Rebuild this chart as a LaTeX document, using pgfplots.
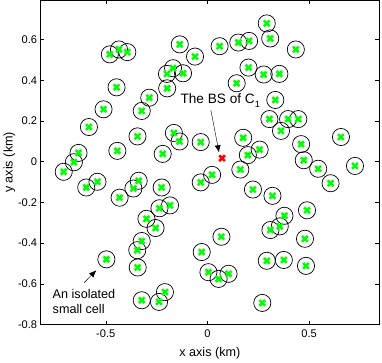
\documentclass[border=0pt]{standalone}
\usepackage{fontspec}
\setmainfont{Liberation Sans}
\usepackage{pgfplots}
\usepackage{pgfplotstable}
\pgfplotsset{compat=1.18}
\usetikzlibrary{arrows.meta}
\definecolor{mgreen}{RGB}{0,255,0}
\definecolor{mred}{RGB}{255,0,0}

% small cell positions (km)
\pgfplotstableread{
x y
-0.480 0.527
-0.435 0.551
-0.394 0.538
-0.447 0.365
-0.511 0.257
-0.323 0.249
-0.286 0.314
-0.583 0.170
-0.634 0.043
-0.657 -0.003
-0.707 -0.050
-0.443 0.053
-0.344 0.124
-0.198 0.360
-0.199 0.431
-0.169 0.459
-0.120 0.434
-0.136 0.576
-0.061 0.516
0.060 0.567
0.152 0.585
0.205 0.593
0.292 0.679
0.309 0.605
0.435 0.551
0.202 0.462
0.277 0.428
0.354 0.431
0.144 0.385
0.334 0.303
0.305 0.209
0.397 0.209
0.447 0.209
0.362 0.151
0.657 0.121
0.461 0.086
0.474 0.007
0.545 -0.035
0.606 -0.106
0.726 -0.021
0.176 0.117
0.199 0.032
0.257 0.059
0.162 -0.039
-0.165 0.141
-0.137 0.099
-0.033 0.096
-0.220 0.038
0.023 -0.065
-0.033 -0.102
-0.596 -0.127
-0.541 -0.099
-0.432 -0.177
-0.364 -0.132
-0.338 -0.094
-0.225 -0.127
-0.236 -0.229
-0.184 -0.215
-0.300 -0.281
-0.255 -0.326
-0.323 -0.390
-0.345 -0.435
-0.343 -0.520
-0.497 -0.480
-0.323 -0.681
-0.238 -0.689
-0.209 -0.641
0.224 -0.137
0.320 -0.168
0.490 -0.239
0.379 -0.266
0.356 -0.318
0.310 -0.336
0.069 -0.369
-0.028 -0.444
0.480 -0.379
0.005 -0.543
0.055 -0.576
0.104 -0.551
0.292 -0.487
0.376 -0.483
0.485 -0.512
0.270 -0.694
}\cells

\pgfplotstableread{
x y
0.072 0.017
}\bs

\begin{document}
\begin{tikzpicture}
\begin{axis}[
  scale only axis,
  width=335pt, height=321pt,
  xmin=-0.82, xmax=0.844,
  ymin=-0.8, ymax=0.792,
  xtick={-0.5,0,0.5},
  xticklabels={-0.5,0,0.5},
  ytick={-0.8,-0.6,-0.4,-0.2,0,0.2,0.4,0.6},
  yticklabels={-0.8,-0.6,-0.4,-0.2,0,0.2,0.4,0.6},
  tick align=inside,
  major tick length=3.5pt,
  tick style={black, line width=0.5pt},
  axis line style={black, line width=0.8pt},
  tick label style={font=\fontsize{11}{13}\selectfont},
  xticklabel style={yshift=-2pt},
  label style={font=\fontsize{12.5}{14}\selectfont},
  xlabel={x axis (km)},
  xlabel style={yshift=-2pt},
  ylabel={y axis (km)},
  ylabel style={yshift=-4pt},
  clip=false,
]
  \addplot[only marks, mark=o, mark size=8.5pt, black, line width=0.7pt] table[x=x, y=y] {\cells};
  \addplot[only marks, mark=x, mark size=4pt, mgreen, line width=2.5pt] table[x=x, y=y] {\cells};
  \addplot[only marks, mark=x, mark size=4pt, mred, line width=2.5pt] table[x=x, y=y] {\bs};

  \node[font=\fontsize{13.5}{15}\selectfont] at (axis cs:0.063,0.302)
    {The BS of C\raisebox{-4pt}{\fontsize{9}{9}\selectfont 1}};
  \draw[-{Latex[length=7pt,width=6pt]}, line width=0.4pt] (axis cs:0.017,0.253) -- (axis cs:0.057,0.046);

  \node[anchor=west, align=left, font=\fontsize{12.5}{14}\selectfont, inner sep=0pt]
    at (axis cs:-0.762,-0.687) {An isolated\\small cell};
  \draw[-{Latex[length=7pt,width=6pt]}, line width=0.4pt] (axis cs:-0.607,-0.595) -- (axis cs:-0.547,-0.534);
\end{axis}
\path (current axis.south east) ++(3pt,0);
\end{tikzpicture}
\end{document}
